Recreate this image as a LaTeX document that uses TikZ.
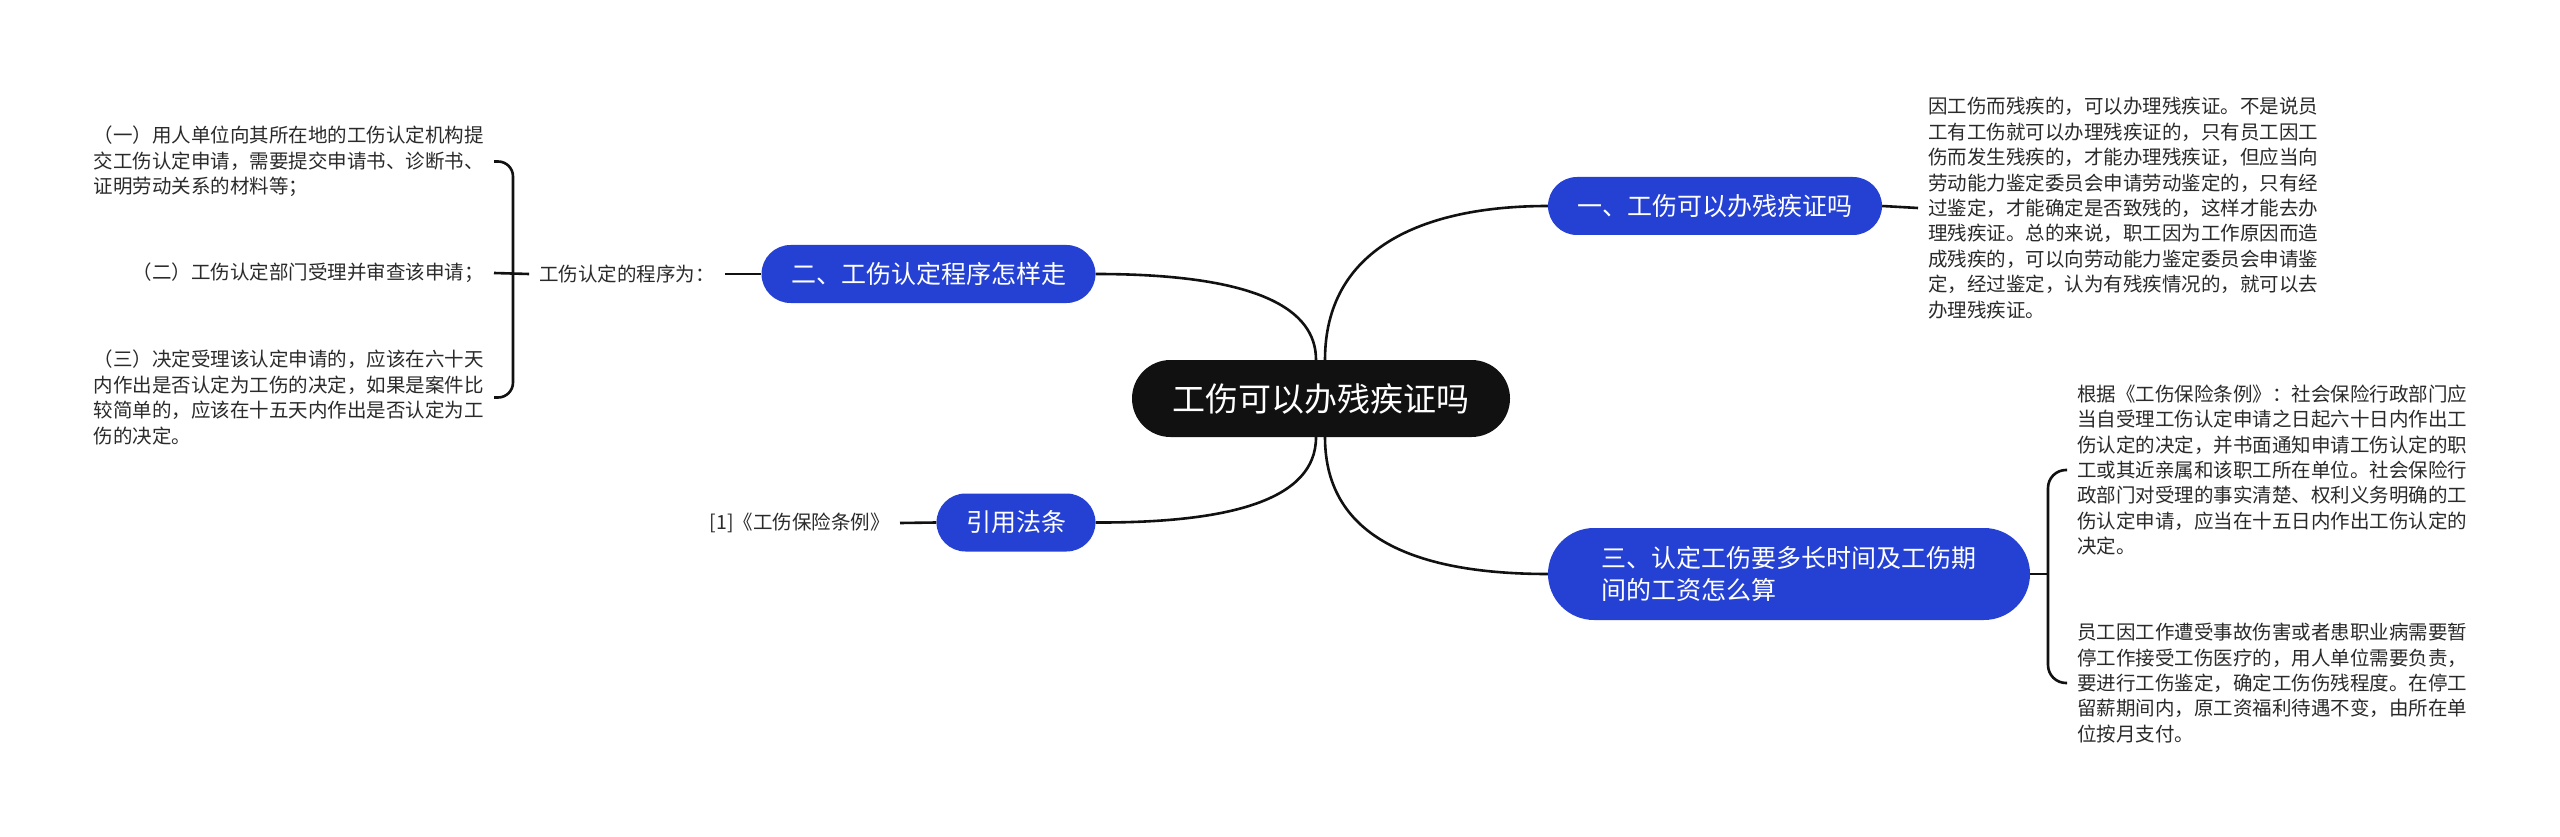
\documentclass[tikz,border=0pt]{standalone}
\usepackage{fontspec}
\newfontfamily\cjk{Noto Sans CJK SC}
\definecolor{nodeblue}{HTML}{2541D4}
\definecolor{linecol}{HTML}{111111}
\definecolor{txt}{HTML}{2A2A2A}
\definecolor{rootfill}{HTML}{111111}
\begin{document}
\begin{tikzpicture}[x=1pt,y=-1pt,
  conn/.style={draw=linecol,line width=2.6pt},
  rootnode/.style={fill=rootfill, text=white, font=\cjk\fontsize{33pt}{40pt}\selectfont, rounded corners=38.5pt, minimum width=378pt, minimum height=77pt, inner sep=0pt},
  topic/.style={fill=nodeblue, text=white, font=\cjk\fontsize{25pt}{32pt}\selectfont, rounded corners=29pt, minimum height=58pt, inner xsep=29.5pt, inner ysep=0pt},
  leaf/.style={text=txt, font=\cjk\fontsize{19.5pt}{25.4pt}\selectfont, align=left, inner xsep=10pt, inner ysep=2pt}
]
\useasboundingbox (0,0) rectangle (2560,837);
\fill[white] (0,0) rectangle (2560,837);

% main and topic nodes
\node[rootnode] (c) at (1321,398.5) {工伤可以办残疾证吗};
\node[topic] (n1) at (1715,206) {一、工伤可以办残疾证吗};
\node[topic] (n2) at (928.5,274) {二、工伤认定程序怎样走};
\node[topic] (n4) at (1016,522.5) {引用法条};
\node[topic, text width=375pt, align=left, inner xsep=53.5pt, minimum height=92pt, rounded corners=46pt] (n3) at (1789,574) {三、认定工伤要多长时间及工伤期\\间的工资怎么算};

% leaf texts right
\node[leaf, anchor=west] (r1) at (1918,208) {因工伤而残疾的，可以办理残疾证。不是说员\\工有工伤就可以办理残疾证的，只有员工因工\\伤而发生残疾的，才能办理残疾证，但应当向\\劳动能力鉴定委员会申请劳动鉴定的，只有经\\过鉴定，才能确定是否致残的，这样才能去办\\理残疾证。总的来说，职工因为工作原因而造\\成残疾的，可以向劳动能力鉴定委员会申请鉴\\定，经过鉴定，认为有残疾情况的，就可以去\\办理残疾证。};
\node[leaf, anchor=west] (r3a) at (2067,470) {根据《工伤保险条例》：社会保险行政部门应\\当自受理工伤认定申请之日起六十日内作出工\\伤认定的决定，并书面通知申请工伤认定的职\\工或其近亲属和该职工所在单位。社会保险行\\政部门对受理的事实清楚、权利义务明确的工\\伤认定申请，应当在十五日内作出工伤认定的\\决定。};
\node[leaf, anchor=west] (r3b) at (2067,683) {员工因工作遭受事故伤害或者患职业病需要暂\\停工作接受工伤医疗的，用人单位需要负责，\\要进行工伤鉴定，确定工伤伤残程度。在停工\\留薪期间内，原工资福利待遇不变，由所在单\\位按月支付。};

% leaf texts left
\node[leaf, anchor=east] (l2) at (725,274) {工伤认定的程序为：};
\node[leaf, anchor=east] (la) at (494,161.5) {（一）用人单位向其所在地的工伤认定机构提\\交工伤认定申请，需要提交申请书、诊断书、\\证明劳动关系的材料等；};
\node[leaf, anchor=east] (lb) at (494,273) {（二）工伤认定部门受理并审查该申请；};
\node[leaf, anchor=east] (lc) at (494,397.5) {（三）决定受理该认定申请的，应该在六十天\\内作出是否认定为工伤的决定，如果是案件比\\较简单的，应该在十五天内作出是否认定为工\\伤的决定。};
\node[leaf, anchor=east] (l4) at (900,523) {[1]《工伤保险条例》};

% connectors from root
\draw[conn] ([xshift=4pt]c.north) .. controls (1325,250) and (1420,206) .. (n1.west);
\draw[conn] ([xshift=-5pt]c.north) .. controls (1316,310) and (1260,274) .. (n2.east);
\draw[conn] ([xshift=-5pt]c.south) .. controls (1316,500) and (1230,523) .. (n4.east);
\draw[conn] ([xshift=4pt]c.south) .. controls (1325,540) and (1420,574) .. (n3.west);

% topic to leaves
\draw[conn] (n1.east) -- (r1.west);
\draw[conn] (n2.west) -- (l2.east);
\draw[conn] (n4.west) -- (l4.east);

\coordinate (lbx) at (513,274);
\draw[conn, rounded corners=15pt] (la.east) -| (lbx) |- (lc.east);
\draw[conn] (lb.east) -- (l2.west);

\coordinate (rbx) at (2048,574);
\draw[conn] (n3.east) -- (rbx);
\draw[conn, rounded corners=18pt] (r3a.west) -| (rbx) |- (r3b.west);
\end{tikzpicture}
\end{document}
